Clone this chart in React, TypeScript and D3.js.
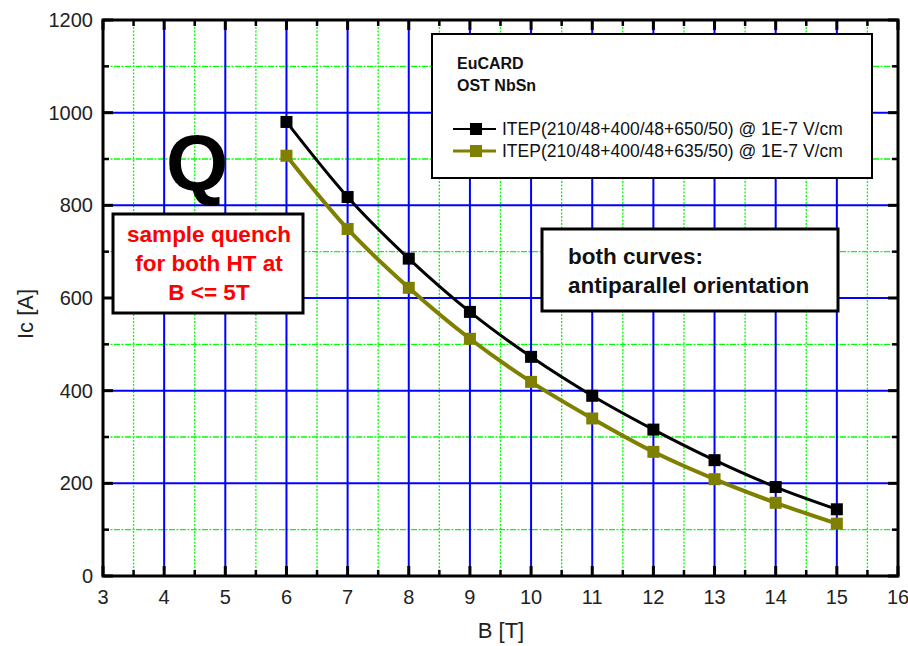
import React, { useEffect, useRef } from "react";
import * as d3 from "d3";

const fieldT = [6, 7, 8, 9, 10, 11, 12, 13, 14, 15];
const ic650 = [980, 818, 685, 570, 473, 389, 316, 250, 192, 144];
const ic635 = [907, 749, 622, 512, 419, 340, 268, 209, 158, 113];
const xTicks = [3, 4, 5, 6, 7, 8, 9, 10, 11, 12, 13, 14, 15, 16];
const yTicks = [0, 200, 400, 600, 800, 1000, 1200];
const seriesNames = [
  "ITEP(210/48+400/48+650/50) @ 1E-7 V/cm",
  "ITEP(210/48+400/48+635/50) @ 1E-7 V/cm",
];
const noteLines = ["EuCARD", "OST NbSn"];
const quenchLines = ["sample quench", "for both HT at", "B <= 5T"];
const orientLines = ["both curves:", "antiparallel orientation"];

const FONT = "'Liberation Sans', Arial, sans-serif";

const App = () => {
  const ref = useRef<SVGSVGElement>(null);

  useEffect(() => {
    const svg = d3.select(ref.current);
    svg.selectAll("*").remove();

    const left = 103, right = 898, top = 20, bottom = 576;
    const x = d3.scaleLinear().domain([3, 16]).range([left, right]);
    const y = d3.scaleLinear().domain([0, 1200]).range([bottom, top]);

    const grid = svg.append("g");
    // minor green grid
    const minorX = d3.range(3.5, 16, 1);
    const minorY = d3.range(100, 1200, 200);
    grid.selectAll("line.mx").data(minorX).enter().append("line")
      .attr("x1", d => x(d)).attr("x2", d => x(d))
      .attr("y1", top).attr("y2", bottom)
      .attr("stroke", "#00ff00").attr("stroke-width", 1.3)
      .attr("stroke-dasharray", "2,1.5");
    grid.selectAll("line.my").data(minorY).enter().append("line")
      .attr("x1", left).attr("x2", right)
      .attr("y1", d => y(d)).attr("y2", d => y(d))
      .attr("stroke", "#00ff00").attr("stroke-width", 1.3)
      .attr("stroke-dasharray", "6,1.5,2,1.5");
    // major blue grid
    grid.selectAll("line.MX").data(xTicks.slice(1, -1)).enter().append("line")
      .attr("x1", d => x(d)).attr("x2", d => x(d))
      .attr("y1", top).attr("y2", bottom)
      .attr("stroke", "#0000ff").attr("stroke-width", 2);
    grid.selectAll("line.MY").data(yTicks.slice(1, -1)).enter().append("line")
      .attr("x1", left).attr("x2", right)
      .attr("y1", d => y(d)).attr("y2", d => y(d))
      .attr("stroke", "#0000ff").attr("stroke-width", 2);

    // ticks on all four sides (inward)
    const tk = svg.append("g").attr("stroke", "#000");
    xTicks.forEach(v => {
      tk.append("line").attr("x1", x(v)).attr("x2", x(v)).attr("y1", bottom).attr("y2", bottom - 10).attr("stroke-width", 3);
      tk.append("line").attr("x1", x(v)).attr("x2", x(v)).attr("y1", top).attr("y2", top + 10).attr("stroke-width", 3);
    });
    minorX.forEach(v => {
      tk.append("line").attr("x1", x(v)).attr("x2", x(v)).attr("y1", bottom).attr("y2", bottom - 6).attr("stroke-width", 2.5);
      tk.append("line").attr("x1", x(v)).attr("x2", x(v)).attr("y1", top).attr("y2", top + 6).attr("stroke-width", 2.5);
    });
    yTicks.forEach(v => {
      tk.append("line").attr("x1", left).attr("x2", left + 10).attr("y1", y(v)).attr("y2", y(v)).attr("stroke-width", 3);
      tk.append("line").attr("x1", right).attr("x2", right - 10).attr("y1", y(v)).attr("y2", y(v)).attr("stroke-width", 3);
    });
    minorY.forEach(v => {
      tk.append("line").attr("x1", left).attr("x2", left + 6).attr("y1", y(v)).attr("y2", y(v)).attr("stroke-width", 2.5);
      tk.append("line").attr("x1", right).attr("x2", right - 6).attr("y1", y(v)).attr("y2", y(v)).attr("stroke-width", 2.5);
    });

    // frame
    svg.append("rect").attr("x", left).attr("y", top)
      .attr("width", right - left).attr("height", bottom - top)
      .attr("fill", "none").attr("stroke", "#000").attr("stroke-width", 3);

    // tick labels
    svg.append("g").selectAll("text").data(xTicks).enter().append("text")
      .attr("x", d => x(d)).attr("y", 604)
      .attr("text-anchor", "middle").attr("font-family", FONT).attr("font-size", 20)
      .attr("fill", "#222").text(d => d);
    svg.append("g").selectAll("text").data(yTicks).enter().append("text")
      .attr("x", 93).attr("y", d => y(d) + 7)
      .attr("text-anchor", "end").attr("font-family", FONT).attr("font-size", 20)
      .attr("fill", "#222").text(d => d);

    // axis titles
    svg.append("text").attr("x", 501).attr("y", 638)
      .attr("text-anchor", "middle").attr("font-family", FONT).attr("font-size", 22)
      .attr("fill", "#222").text("B [T]");
    svg.append("text").attr("transform", "translate(33,314) rotate(-90)")
      .attr("text-anchor", "middle").attr("font-family", FONT).attr("font-size", 22)
      .attr("fill", "#222").text("Ic [A]");

    // Q
    svg.append("text").attr("x", 197).attr("y", 190)
      .attr("text-anchor", "middle").attr("font-family", FONT).attr("font-weight", "bold")
      .attr("font-size", 80).attr("fill", "#000").text("Q");

    // red quench box
    svg.append("rect").attr("x", 113).attr("y", 214).attr("width", 190).attr("height", 99)
      .attr("fill", "#fff").attr("stroke", "#000").attr("stroke-width", 3);
    svg.append("g").selectAll("text").data(quenchLines).enter().append("text")
      .attr("x", 209).attr("y", (d, i) => 242 + i * 29)
      .attr("text-anchor", "middle").attr("font-family", FONT).attr("font-weight", "bold")
      .attr("font-size", 22.5).attr("fill", "#ff0000").text(d => d);

    // orientation box
    svg.append("rect").attr("x", 542).attr("y", 229).attr("width", 296).attr("height", 82)
      .attr("fill", "#fff").attr("stroke", "#000").attr("stroke-width", 3);
    svg.append("g").selectAll("text").data(orientLines).enter().append("text")
      .attr("x", 568).attr("y", (d, i) => 264 + i * 29)
      .attr("font-family", FONT).attr("font-weight", "bold")
      .attr("font-size", 22.5).attr("fill", "#111").text(d => d);

    // series
    const series = [
      { values: ic650, color: "#000000", width: 3 },
      { values: ic635, color: "#808000", width: 4 },
    ];
    const line = d3.line<number>()
      .x((d, i) => x(fieldT[i]))
      .y(d => y(d))
      .curve(d3.curveMonotoneX);
    series.slice().reverse().forEach(s => {
      svg.append("path").datum(s.values).attr("d", line)
        .attr("fill", "none").attr("stroke", s.color).attr("stroke-width", s.width);
    });
    series.forEach(s => {
      svg.append("g").selectAll("rect").data(s.values).enter().append("rect")
        .attr("x", (d, i) => x(fieldT[i]) - 6).attr("y", d => y(d) - 6)
        .attr("width", 12).attr("height", 12).attr("fill", s.color);
    });

    // legend box
    svg.append("rect").attr("x", 432).attr("y", 34).attr("width", 440).attr("height", 144)
      .attr("fill", "#fff").attr("stroke", "#000").attr("stroke-width", 2);
    svg.append("g").selectAll("text").data(noteLines).enter().append("text")
      .attr("x", 457).attr("y", (d, i) => 69 + i * 22)
      .attr("font-family", FONT).attr("font-weight", "bold")
      .attr("font-size", 16).attr("fill", "#111").text(d => d);
    series.forEach((s, i) => {
      const ly = 129 + i * 22;
      svg.append("line").attr("x1", 453).attr("x2", 496).attr("y1", ly).attr("y2", ly)
        .attr("stroke", s.color).attr("stroke-width", s.width - 1);
      svg.append("rect").attr("x", 470).attr("y", ly - 6).attr("width", 12).attr("height", 12)
        .attr("fill", s.color);
      svg.append("text").attr("x", 502).attr("y", ly + 6)
        .attr("font-family", FONT).attr("font-size", 17.5).attr("fill", "#111")
        .text(seriesNames[i]);
    });
  }, []);

  return (
    <svg
      ref={ref}
      width={908}
      height={646}
      style={{ position: "absolute", left: 0, top: 0, background: "#fff" }}
    ></svg>
  );
};

export default App;
